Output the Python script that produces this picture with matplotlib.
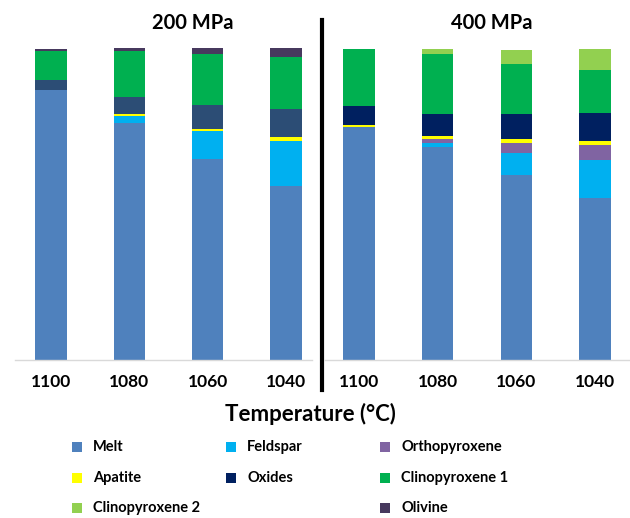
import matplotlib
matplotlib.use("Agg")
import matplotlib.pyplot as plt
from matplotlib.patches import Rectangle
import numpy as np

plt.rcParams['font.family'] = ['Lato', 'DejaVu Sans']
plt.rcParams['font.weight'] = 'bold'

temperatures = ["1100", "1080", "1060", "1040"]
phases = ["Melt", "Feldspar", "Orthopyroxene", "Apatite", "Oxides",
          "Clinopyroxene 1", "Clinopyroxene 2", "Olivine"]

# phase proportions (%) at 200 MPa, stacked bottom to top
melt_200 = [86.5, 76.1, 64.4, 55.8]
feldspar_200 = [0.0, 2.2, 9.0, 14.4]
opx_200 = [0.0, 0.0, 0.0, 0.0]
apatite_200 = [0.0, 0.5, 0.7, 1.2]
oxides_200 = [3.4, 5.5, 7.7, 9.0]
cpx1_200 = [9.0, 14.6, 16.2, 16.7]
cpx2_200 = [0.0, 0.0, 0.0, 0.0]
olivine_200 = [0.7, 1.1, 1.9, 2.9]

# phase proportions (%) at 400 MPa
melt_400 = [74.8, 68.3, 59.2, 52.0]
feldspar_400 = [0.0, 1.4, 7.2, 12.1]
opx_400 = [0.0, 1.1, 3.2, 4.9]
apatite_400 = [0.5, 1.1, 1.3, 1.3]
oxides_400 = [6.1, 7.1, 7.9, 8.8]
cpx1_400 = [18.2, 19.0, 16.2, 13.9]
cpx2_400 = [0.0, 1.7, 4.5, 6.6]
olivine_400 = [0.0, 0.0, 0.0, 0.0]

colors = ["#4F81BD", "#00B0F0", "#8064A2", "#FFFF00", "#002060",
          "#00B050", "#92D050", "#47395E"]
colors_200 = colors.copy()
colors_200[4] = "#2C4D75"

W, H = 630, 518
fig = plt.figure(figsize=(W / 100, H / 100), dpi=100)


def fx(px):
    return px / W


def fy(py):
    return 1 - py / H


def panel(x0, x1, xlim, series, cols, title, title_x):
    ax = fig.add_axes([fx(x0), fy(360), fx(x1 - x0), 312 / H])
    x = np.arange(len(temperatures))
    bottom = np.zeros(len(temperatures))
    for vals, c in zip(series, cols):
        vals = np.asarray(vals, dtype=float)
        ax.bar(x, vals, 0.40, bottom=bottom, color=c, linewidth=0)
        bottom += vals
    ax.set_xlim(*xlim)
    ax.set_ylim(0, 100)
    ax.set_xticks(x)
    ax.set_xticklabels(temperatures, fontsize=12.5, fontweight='bold')
    ax.tick_params(axis='x', length=0, pad=10)
    ax.set_yticks([])
    for s in ("top", "left", "right"):
        ax.spines[s].set_visible(False)
    ax.spines["bottom"].set_color("#D9D9D9")
    ax.spines["bottom"].set_linewidth(1.0)
    fig.text(fx(title_x), fy(29), title, ha='center', va='baseline',
             fontsize=14.5, fontweight='bold')
    return ax


panel(15, 312, (-0.46, 3.33),
      [melt_200, feldspar_200, opx_200, apatite_200, oxides_200,
       cpx1_200, cpx2_200, olivine_200], colors_200, "200 MPa", 193)
panel(325, 630, (-0.432, 3.443),
      [melt_400, feldspar_400, opx_400, apatite_400, oxides_400,
       cpx1_400, cpx2_400, olivine_400], colors, "400 MPa", 492)

# divider between the two pressure panels
fig.add_artist(plt.Line2D([fx(321.7), fx(321.7)], [fy(20), fy(390)],
                          color="black", linewidth=3))

fig.text(fx(310), fy(420.7), "Temperature (°C)", ha='center', va='baseline',
         fontsize=16, fontweight='bold')

# legend laid out in a 3-column grid, row by row
grid = {"Melt": (0, 0), "Feldspar": (0, 1), "Orthopyroxene": (0, 2),
        "Apatite": (1, 0), "Oxides": (1, 1), "Clinopyroxene 1": (1, 2),
        "Clinopyroxene 2": (2, 0), "Olivine": (2, 2)}
col_x = [77, 231, 385]
row_y = [447, 478, 508]
for name, c in zip(phases, colors):
    r, k = grid[name]
    cx, cy = col_x[k], row_y[r]
    fig.add_artist(Rectangle((fx(cx - 5), fy(cy + 5)), fx(10), 10 / H,
                             facecolor=c, edgecolor='none',
                             transform=fig.transFigure))
    fig.text(fx(cx + 16), fy(cy), name, ha='left', va='center',
             fontsize=10.5, fontweight='bold')

fig.savefig("out.png", dpi=100, facecolor="white")
